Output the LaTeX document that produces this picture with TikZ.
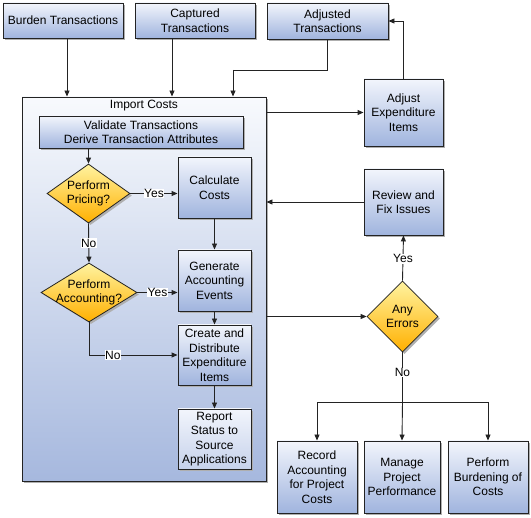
\documentclass[tikz,border=0pt]{standalone}
\usepackage{fontspec}
\setmainfont{Liberation Sans}
\usetikzlibrary{shapes.geometric,arrows.meta,shadows,calc}
\definecolor{boxtop}{RGB}{242,245,252}
\definecolor{boxbot}{RGB}{160,180,222}
\definecolor{imptop}{RGB}{248,250,253}
\definecolor{impbot}{RGB}{166,184,222}
\definecolor{diatop}{RGB}{255,243,160}
\definecolor{diabot}{RGB}{255,176,0}
\definecolor{edge}{RGB}{35,35,35}
\definecolor{shade}{RGB}{175,175,175}
\tikzset{
  every node/.style={font=\fontsize{12}{14.5}\selectfont, align=center, inner sep=1pt},
  procbox/.style={rectangle, draw=edge, line width=0.9pt, top color=boxtop, bottom color=boxbot,
    drop shadow={shadow xshift=2pt, shadow yshift=-2pt, fill=shade, opacity=1}},
  impbox/.style={rectangle, draw=edge, line width=0.9pt, top color=imptop, bottom color=impbot,
    drop shadow={shadow xshift=2pt, shadow yshift=-2pt, fill=shade, opacity=1}},
  decbox/.style={diamond, draw=edge, line width=0.8pt, top color=diatop, bottom color=diabot, inner sep=0pt,
    drop shadow={shadow xshift=2pt, shadow yshift=-2pt, fill=shade, opacity=1}},
  conn/.style={draw=edge, line width=0.9pt, -{Triangle[length=6pt,width=5pt]}},
  plain/.style={draw=edge, line width=0.9pt},
  lbl/.style={fill=white, inner sep=0.5pt}
}
\begin{document}
\begin{tikzpicture}[x=1pt,y=-1pt]
\useasboundingbox (0,0) rectangle (531,518);
% top sources
\node[procbox, minimum width=120, minimum height=35] (burden) at (63,20.5) {Burden Transactions};
\node[procbox, minimum width=120, minimum height=35] (captured) at (195,20.5) {Captured\\Transactions};
\node[procbox, minimum width=121, minimum height=36] (adjusted) at (327.5,21) {Adjusted\\Transactions};
% import container
\node[impbox, minimum width=244, minimum height=384] (import) at (144,289) {};
\node (implbl) at (144,106) {Import Costs};
\node[procbox, minimum width=204, minimum height=32] (validate) at (141,132) {Validate Transactions\\Derive Transaction Attributes};
\node[decbox, minimum width=83, minimum height=59] (pricing) at (88.5,193.5) {};
\node (pricingtxt) at (pricing.center) {Perform\\Pricing?};
\node[procbox, minimum width=73, minimum height=61] (calc) at (214.5,187.5) {Calculate\\Costs};
\node[procbox, minimum width=73, minimum height=61] (generate) at (214.5,280.5) {Generate\\Accounting\\Events};
\node[decbox, minimum width=96, minimum height=59] (accounting) at (89,292.5) {};
\node (accountingtxt) at (accounting.center) {Perform\\Accounting?};
\node[procbox, minimum width=73, minimum height=60] (create) at (214.5,355) {Create and\\Distribute\\Expenditure\\Items};
\node[procbox, minimum width=73, minimum height=60, bottom color=boxbot!60!white] (report) at (214.5,439) {Report\\Status to\\Source\\Applications};
% right side
\node[procbox, minimum width=79, minimum height=67] (adjexp) at (403.5,112.5) {Adjust\\Expenditure\\Items};
\node[procbox, minimum width=79, minimum height=66] (review) at (403.5,202) {Review and\\Fix Issues};
\node[decbox, minimum width=71, minimum height=71] (errors) at (402.5,316.5) {};
\node (errorstxt) at (errors.center) {Any\\Errors};
\node[procbox, minimum width=80, minimum height=72] (record) at (317,477) {Record\\Accounting\\for Project\\Costs};
\node[procbox, minimum width=76, minimum height=72] (manage) at (402,477) {Manage\\Project\\Performance};
\node[procbox, minimum width=80, minimum height=72] (burdening) at (488,477) {Perform\\Burdening of\\Costs};
% connectors top
\draw[conn] ([xshift=4pt]burden.south) -- ([xshift=4pt]burden.south |- import.north);
\draw[conn] ([xshift=-23pt]captured.south) -- ([xshift=-23pt]captured.south |- import.north);
\coordinate (j1) at (233,70);
\draw[plain] (adjusted.south) |- (j1);
\draw[conn] (j1) -- (j1 |- import.north);
\draw[conn] (adjexp.west -| import.east) -- (adjexp.west);
\draw[conn] (adjexp.north) |- (adjusted.east);
% inside import
\draw[conn] (pricing.north |- validate.south) -- (pricing.north);
\draw[conn] (pricing.east) -- node[lbl, pos=0.5]{Yes} (pricing.east -| calc.west);
\draw[conn] (calc.south) -- (generate.north);
\draw[conn] (pricing.south) -- node[lbl]{No} (accounting.north);
\draw[conn] (accounting.east) -- node[lbl, pos=0.5]{Yes} (accounting.east -| generate.west);
\draw[conn] (generate.south) -- (create.north);
\draw[conn] (accounting.south) |- node[lbl, pos=0.635]{No} (create.west);
\draw[conn] (create.south) -- (report.north);
% right side
\draw[conn] (review.west) -- (review.west -| import.east);
\draw[conn] (errors.west -| import.east) -- (errors.west);
\draw[conn] (errors.north) -- node[lbl, pos=0.48]{Yes} (review.south);
\coordinate (jn) at (402.5,402);
\draw[plain] (errors.south) -- node[lbl, pos=0.4]{No} (jn);
\draw[conn] (jn) -| (record.north);
\draw[conn] (jn) -- (manage.north);
\draw[conn] (jn) -| (burdening.north);
\end{tikzpicture}
\end{document}
